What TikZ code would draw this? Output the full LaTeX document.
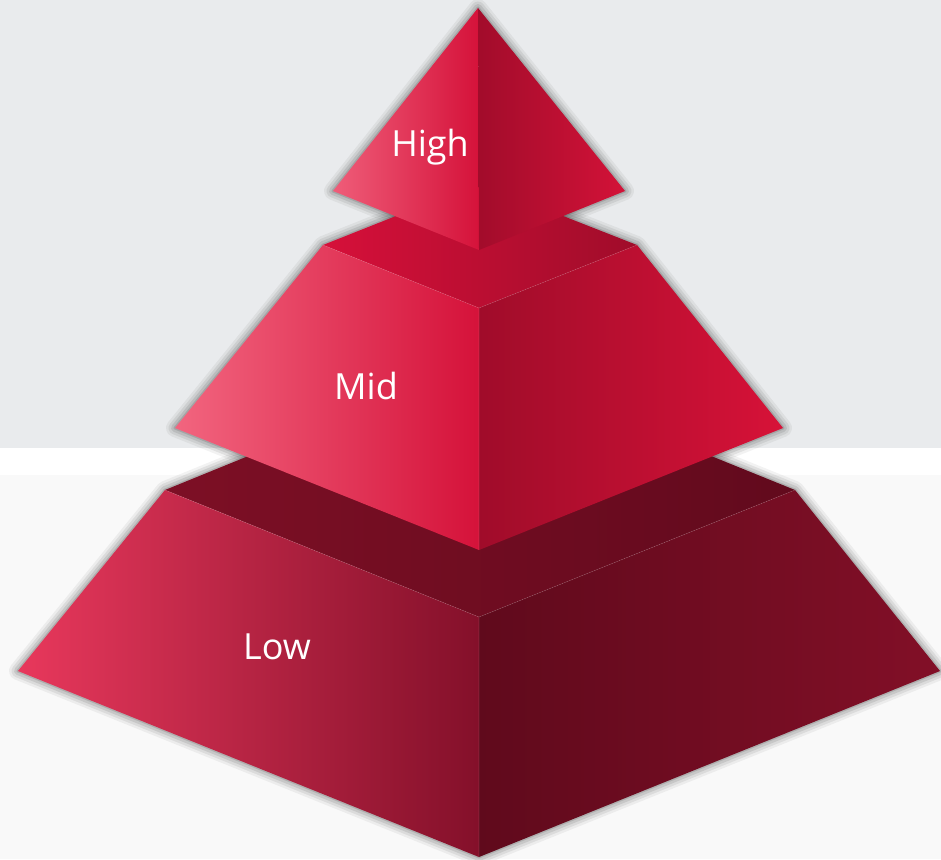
\documentclass[tikz,border=0pt]{standalone}
\usepackage{fontspec}
\setmainfont{Open Sans}
\definecolor{bgtop}{HTML}{E9EBED}
\definecolor{bgbot}{HTML}{F9F9F9}
\definecolor{hlL}{HTML}{EF5D79}
\definecolor{hlR}{HTML}{D5123A}
\definecolor{hrL}{HTML}{A20C2B}
\definecolor{hrR}{HTML}{D31238}
\definecolor{mtL}{HTML}{D6103A}
\definecolor{mtR}{HTML}{A00C2A}
\definecolor{mlL}{HTML}{F2657F}
\definecolor{mlR}{HTML}{D5123A}
\definecolor{mrL}{HTML}{A00C2A}
\definecolor{mrR}{HTML}{D71238}
\definecolor{ltL}{HTML}{7D0F25}
\definecolor{ltR}{HTML}{620A1D}
\definecolor{llL}{HTML}{E8385C}
\definecolor{llR}{HTML}{84102A}
\definecolor{lrL}{HTML}{600A1C}
\definecolor{lrR}{HTML}{820F27}
\begin{document}
\begin{tikzpicture}[x=1pt,y=-1pt,
  lbl/.style={text=white, font=\fontsize{36}{42}\selectfont, inner sep=0pt},
  shadowline/.style={draw=black, line join=round, shift={(1,3)}},
  edge/.style={draw=white, draw opacity=0.12, line width=0.6pt, line join=round}]
% background
\useasboundingbox (0,0) rectangle (941,859);
\fill[bgtop] (0,0) rectangle (941,448);
\fill[white] (0,448) rectangle (941,475);
\fill[bgbot] (0,475) rectangle (941,859);
% coordinates
\coordinate (hA) at (478,8);
\coordinate (hL) at (333,191);
\coordinate (hF) at (479,250);
\coordinate (hR) at (625,191);
\coordinate (mTL) at (323,245);
\coordinate (mTB) at (479,183);
\coordinate (mTR) at (637,245);
\coordinate (mTF) at (479,308);
\coordinate (mBL) at (175,428);
\coordinate (mBR) at (783,428);
\coordinate (mBF) at (479,550);
\coordinate (lTL) at (165,490);
\coordinate (lTB) at (479,362);
\coordinate (lTR) at (795,490);
\coordinate (lTF) at (479,617);
\coordinate (lBL) at (18,671);
\coordinate (lBR) at (940,671);
\coordinate (lBF) at (479,857);
% shadows
\foreach \w/\o in {18/0.05,13/0.07,8/0.09,3/0.12}{
  \path[shadowline, line width=\w pt, draw opacity=\o] (lTL) -- (lTB) -- (lTR) -- (lBR) -- (lBF) -- (lBL) -- cycle;
  \path[shadowline, line width=\w pt, draw opacity=\o] (mTL) -- (mTB) -- (mTR) -- (mBR) -- (mBF) -- (mBL) -- cycle;
  \path[shadowline, line width=\w pt, draw opacity=\o] (hA) -- (hR) -- (hF) -- (hL) -- cycle;
}
% Low
\shade[left color=ltL, right color=ltR] (lTL) -- (lTB) -- (lTR) -- (lTF) -- cycle;
\shade[left color=llL, right color=llR] (lTL) -- (lTF) -- (lBF) -- (lBL) -- cycle;
\shade[left color=lrL, right color=lrR] (lTF) -- (lTR) -- (lBR) -- (lBF) -- cycle;
\path[edge] (lTL) -- (lTF) -- (lTR) (lTF) -- (lBF);
% Mid
\shade[left color=mtL, right color=mtR] (mTL) -- (mTB) -- (mTR) -- (mTF) -- cycle;
\shade[left color=mlL, right color=mlR] (mTL) -- (mTF) -- (mBF) -- (mBL) -- cycle;
\shade[left color=mrL, right color=mrR] (mTF) -- (mTR) -- (mBR) -- (mBF) -- cycle;
\path[edge] (mTL) -- (mTF) -- (mTR) (mTF) -- (mBF);
% High
\shade[left color=hlL, right color=hlR] (hA) -- (hF) -- (hL) -- cycle;
\shade[left color=hrL, right color=hrR] (hA) -- (hR) -- (hF) -- cycle;
% labels
\node[lbl] (high) at (430,147) {High};
\node[lbl] (mid) at (366,386) {Mid};
\node[lbl] (low) at (277,647) {Low};
\end{tikzpicture}
\end{document}
